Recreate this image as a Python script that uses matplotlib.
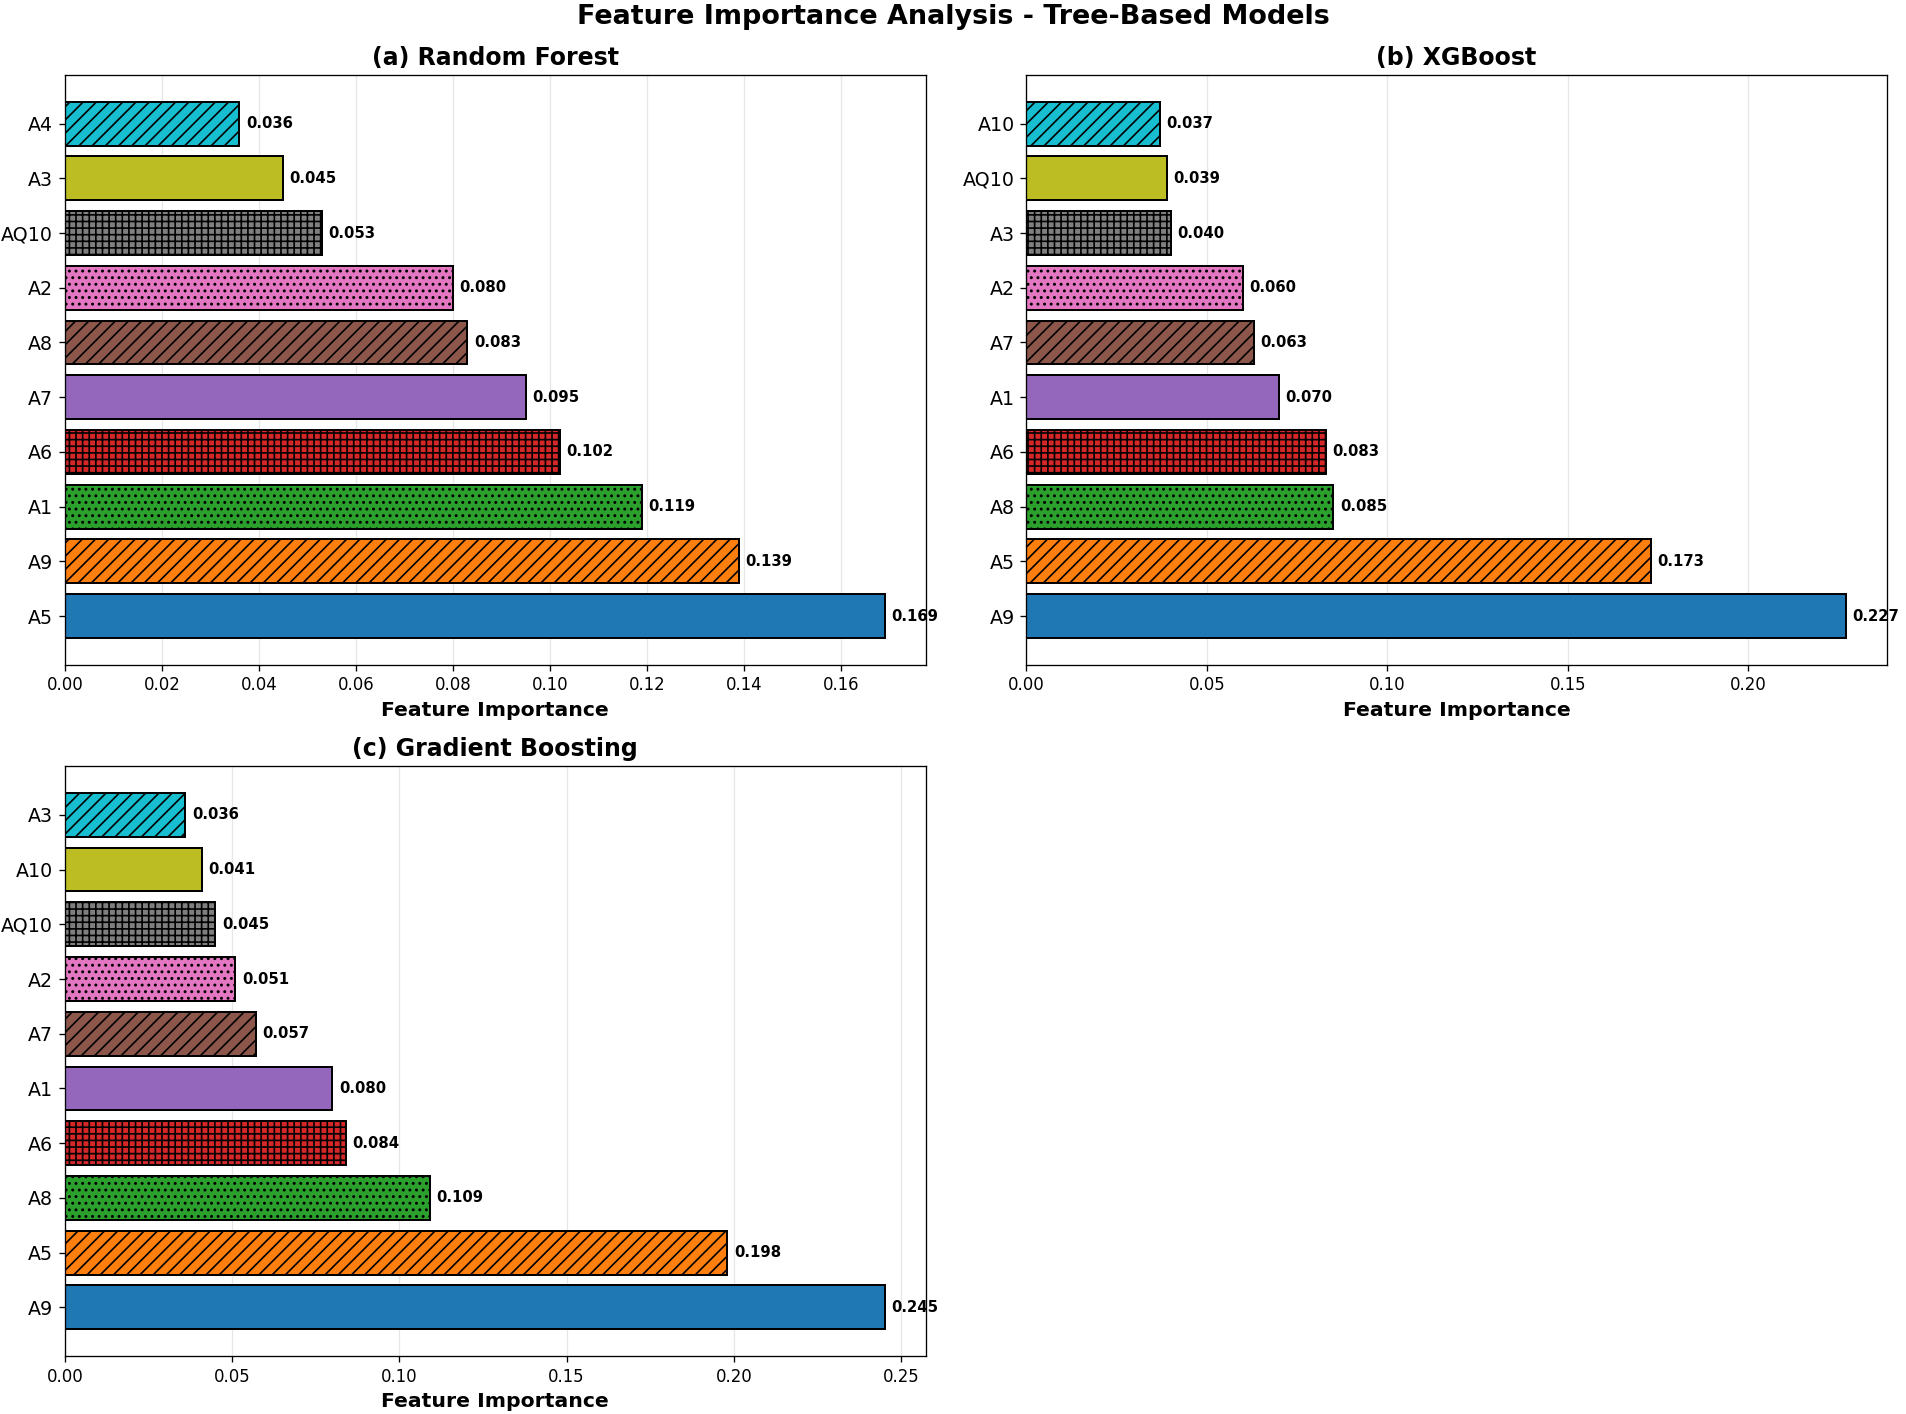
import numpy as np
from matplotlib import pyplot as plt

# feature importances, listed from the bottom bar to the top bar
rf_features = ['A5', 'A9', 'A1', 'A6', 'A7', 'A8', 'A2', 'AQ10', 'A3', 'A4']
rf_values = [0.169, 0.139, 0.119, 0.102, 0.095, 0.083, 0.080, 0.053, 0.045, 0.036]

xgb_features = ['A9', 'A5', 'A8', 'A6', 'A1', 'A7', 'A2', 'A3', 'AQ10', 'A10']
xgb_values = [0.227, 0.173, 0.085, 0.083, 0.070, 0.063, 0.060, 0.040, 0.039, 0.037]

gb_features = ['A9', 'A5', 'A8', 'A6', 'A1', 'A7', 'A2', 'AQ10', 'A10', 'A3']
gb_values = [0.245, 0.198, 0.109, 0.084, 0.080, 0.057, 0.051, 0.045, 0.041, 0.036]

titles = ['(a) Random Forest', '(b) XGBoost', '(c) Gradient Boosting']
colors = plt.cm.tab10(np.arange(10))
hatches = ['', '///', '...', '+++']

fig, axes = plt.subplots(2, 2, figsize=(16, 11.87), dpi=119.125)
fig.subplots_adjust(left=0.034, right=0.990, top=0.947, bottom=0.041,
                    wspace=0.117, hspace=0.172)

def drawPanel(ax, feats, vals, title):
    y = np.arange(len(feats))
    bars = ax.barh(y, vals, height=0.8, color=colors, edgecolor='black', linewidth=1.2)
    for i, b in enumerate(bars):
        b.set_hatch(hatches[i % 4])
    ax.set_yticks(y)
    ax.set_yticklabels(feats, fontsize=11.5)
    ax.tick_params(axis='x', labelsize=10)
    ax.set_xlabel('Feature Importance', fontsize=12.3, fontweight='bold')
    ax.set_title(title, fontsize=14.3, fontweight='bold')
    ax.grid(axis='x', alpha=0.3)
    ax.set_axisbelow(True)
    for b, v in zip(bars, vals):
        ax.annotate('%.3f' % v, xy=(b.get_width(), b.get_y() + b.get_height() / 2),
                    xytext=(4, 0), textcoords='offset points',
                    va='center', ha='left', fontsize=9, fontweight='bold')

drawPanel(axes[0, 0], rf_features, rf_values, titles[0])
drawPanel(axes[0, 1], xgb_features, xgb_values, titles[1])
drawPanel(axes[1, 0], gb_features, gb_values, titles[2])
axes[1, 1].remove()

fig.suptitle('Feature Importance Analysis - Tree-Based Models', fontsize=16.3,
             fontweight='bold', y=0.997)

plt.savefig('out.png', dpi=119.125)
